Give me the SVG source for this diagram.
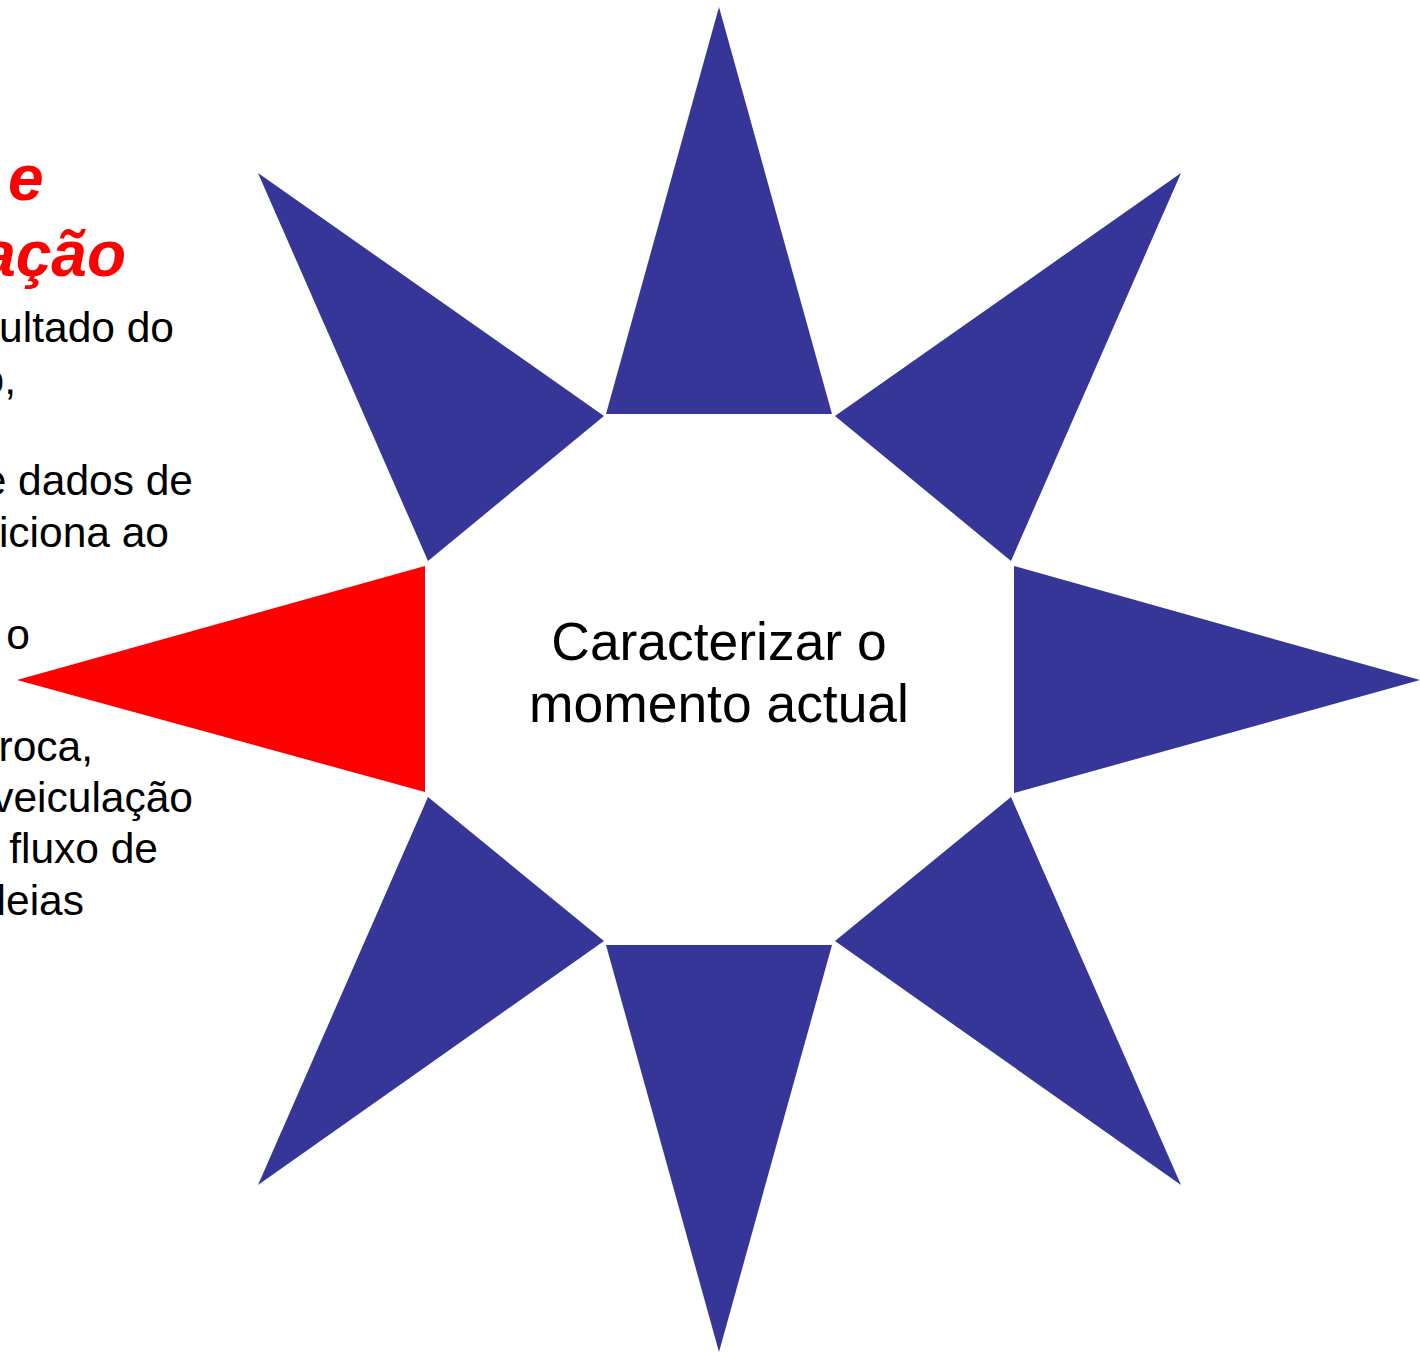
<svg xmlns="http://www.w3.org/2000/svg" width="1420" height="1352" viewBox="0 0 1420 1352">
<style>
.blue{fill:#363699}
.red{fill:#FF0000}
.body{font-family:"Liberation Sans",Arial,sans-serif;font-size:42.5px;fill:#000}
.title{font-family:"Liberation Sans",Arial,sans-serif;font-size:64px;font-weight:bold;font-style:italic;fill:#FF0000}
.center{font-family:"Liberation Sans",Arial,sans-serif;font-size:53.4px;fill:#000;text-anchor:middle}
</style>
<rect width="1420" height="1352" fill="#fff"/>
<g id="left-text">
<text class="title" x="8" y="200">e</text>
<text class="title" x="126" y="276" text-anchor="end">ação</text>
<g class="body" text-anchor="end">
<text x="174" y="342">ultado do</text>
<text x="16" y="394">o,</text>
<text x="193" y="495">e dados de</text>
<text x="169" y="547">iciona ao</text>
<text x="30" y="649">o</text>
<text x="93" y="761">roca,</text>
<text x="193" y="812">veiculação</text>
<text x="158" y="863">fluxo de</text>
<text x="84" y="915">leias</text>
</g>
</g>
<g id="star">
<polygon id="ray-top" class="blue" points="719,7 832,414 606,414"/>
<polygon id="ray-top-right" class="blue" points="1181,173 1011,561 835,416"/>
<polygon id="ray-right" class="blue" points="1420,680 1014,793 1014,566"/>
<polygon id="ray-bottom-right" class="blue" points="1181,1185 835,941 1011,797"/>
<polygon id="ray-bottom" class="blue" points="719,1352 606,945 832,945"/>
<polygon id="ray-bottom-left" class="blue" points="258,1185 428,797 604,941"/>
<polygon id="ray-left" class="red" points="17,680 425,566 425,792"/>
<polygon id="ray-top-left" class="blue" points="258,173 604,416 428,561"/>
</g>
<g id="center">
<text class="center" x="719" y="660">Caracterizar o</text>
<text class="center" x="719" y="722">momento actual</text>
</g>
</svg>
